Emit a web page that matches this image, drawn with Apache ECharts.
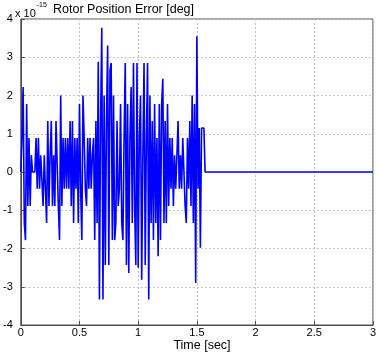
<!DOCTYPE html>
<html>
<head>
<meta charset="utf-8">
<title>Rotor Position Error</title>
<script src="https://cdn.jsdelivr.net/npm/echarts@6/dist/echarts.min.js"></script>
<style>
  html, body { margin: 0; padding: 0; background: #fff; }
  #chart { width: 379px; height: 353px; }
</style>
</head>
<body>
<div id="chart"></div>
<script>
  // sample period of the logged signal [sec]
  var sampleStep = 0.01;
  // position error, in units of 1e-15 deg, one value per sample from t = 0
  var errorValues = [
    0, 0.89, 2.22, -1.33, -1.78, 1.78, -0.89, 0.89, -0.89, 0.44,
    0, 0, 0, 0.89, -0.44, 0.89, -0.44, 0.44, 0.44, -0.89,
    0.44, -0.44, -1.33, 1.33, -0.89, 0.44, 1.33, -0.89, 0.44, -0.89,
    1.33, 1.33, -0.89, -1.78, 2.0, -0.89, 0.89, -0.44, 0.89, -0.44,
    0.89, -0.44, 1.33, -0.89, 1.33, -1.33, 0.89, -0.44, 0.89, -1.33,
    1.78, -0.44, -1.78, 2.0, 0.89, -0.44, -0.89, 0.89, -0.44, 0.89,
    -0.44, 0.44, 0.89, -1.78, 1.33, -1.33, 2.88, -3.33, 1.33, 3.77,
    -3.33, 2.0, -2.43, 1.33, 3.31, -2.43, 2.66, 2.85, -1.78, 2.0,
    -1.78, -1.33, 1.33, -0.89, -0.44, 1.78, -1.33, -1.78, 0.89, 2.85,
    -2.43, 1.78, -2.64, 0.89, 2.22, -1.33, 2.85, -0.89, -2.43, 2.85,
    -2.5, 0.89, 2.0, -2.82, 0.44, 2.85, -2.43, 0.89, 2.85, -3.33,
    2.0, -1.33, 1.33, -1.78, 1.78, -1.33, 0.89, -2.2, 1.78, -1.78,
    1.78, 2.44, -1.33, 1.33, -1.33, 1.78, -0.89, 0.89, -0.44, 0.89,
    -0.89, 0.44, -0.44, 0.44, 1.33, -0.44, 0.44, -0.44, 0.89, 0.89,
    -0.89, -1.33, 0.89, -0.44, 1.33, -0.89, 2.0, -1.33, 1.78, -2.9,
    3.55, -0.44, 1.15, -1.98, 1.15, 1.15, 1.15, 0
  ];
  // after the transient the error stays at zero until the end of the run
  var endTime = 3;
  var endValue = 0;

  var xTicks = [0, 0.5, 1, 1.5, 2, 2.5, 3];
  var yTicks = [-4, -3, -2, -1, 0, 1, 2, 3, 4];

  var seriesData = errorValues.map(function (v, i) {
    return [i * sampleStep, v];
  });
  seriesData.push([endTime, endValue]);

  var myChart = echarts.init(document.getElementById('chart'));
  var fontName = '"Liberation Sans", Arial, sans-serif';
  var axisColor = '#4d4d4d';

  myChart.setOption({
    animation: false,
    textStyle: { fontFamily: fontName },
    grid: {
      left: 16,
      right: 3,
      top: 19,
      bottom: 28,
      show: true,
      borderColor: axisColor,
      borderWidth: 1
    },
    title: [{
      text: 'Rotor Position Error [deg]',
      left: 48,
      top: -2,
      textStyle: { fontSize: 12.5, fontWeight: 'normal', color: '#000', fontFamily: fontName }
    }, {
      text: '{a|x 10}{b|-15}',
      left: 10,
      top: -3,
      textStyle: {
        fontWeight: 'normal',
        rich: {
          a: { fontSize: 11, fontWeight: 'normal', color: '#000', fontFamily: fontName, verticalAlign: 'bottom', padding: [6, 0, 0, 0] },
          b: { fontSize: 7, fontWeight: 'normal', color: '#000', fontFamily: fontName, verticalAlign: 'top', padding: [0, 0, 6, 1] }
        }
      }
    }, {
      text: 'Time [sec]',
      left: 197,
      textAlign: 'center',
      top: 334,
      textStyle: { fontSize: 12.5, fontWeight: 'normal', color: '#000', fontFamily: fontName }
    }],
    xAxis: {
      type: 'value',
      min: xTicks[0],
      max: xTicks[xTicks.length - 1],
      interval: 0.5,
      axisLine: { show: true, onZero: false, lineStyle: { color: axisColor } },
      axisTick: { show: true, inside: true, length: 4, lineStyle: { color: axisColor } },
      axisLabel: {
        color: '#000',
        fontSize: 11,
        margin: 2,
        formatter: function (v) { return String(v); }
      },
      splitLine: { show: true, lineStyle: { color: '#c4c4c4', type: [2, 2] } }
    },
    yAxis: {
      type: 'value',
      min: yTicks[0],
      max: yTicks[yTicks.length - 1],
      interval: 1,
      axisLine: { show: true, onZero: false, lineStyle: { color: axisColor } },
      axisTick: { show: true, inside: true, length: 4, lineStyle: { color: axisColor } },
      axisLabel: { color: '#000', fontSize: 11, margin: 8 },
      splitLine: { show: true, lineStyle: { color: '#c4c4c4', type: [2, 2] } }
    },
    series: [{
      name: 'error',
      type: 'line',
      data: seriesData,
      showSymbol: false,
      lineStyle: { color: '#0000ff', width: 1.6 },
      clip: true
    }]
  });
</script>
</body>
</html>
